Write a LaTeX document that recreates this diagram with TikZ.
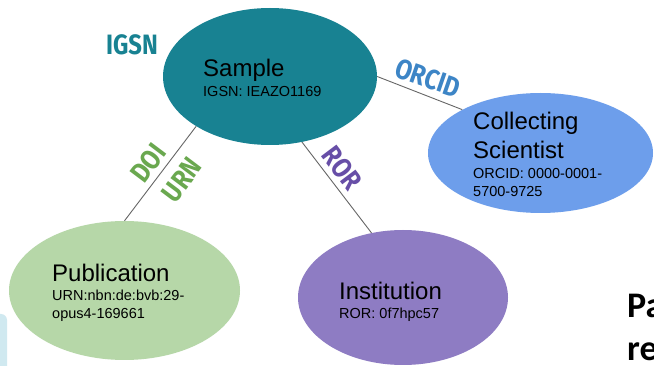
\documentclass[tikz,border=0pt]{standalone}
\usepackage{fontspec}
\setmainfont{Liberation Sans}
\newfontfamily\lblfont[FakeStretch=0.85]{Fira Sans}
\newfontfamily\calfont{Carlito}
\usetikzlibrary{shapes.geometric}
\definecolor{tealfill}{RGB}{24,130,146}
\definecolor{scifill}{RGB}{109,158,235}
\definecolor{pubfill}{RGB}{182,215,168}
\definecolor{instfill}{RGB}{142,124,195}
\definecolor{orcidc}{RGB}{61,133,198}
\definecolor{doic}{RGB}{106,168,79}
\definecolor{rorc}{RGB}{103,78,167}
\definecolor{sidefill}{RGB}{208,233,240}
\begin{document}
\begin{tikzpicture}[x=1pt,y=1pt,
  ent/.style={ellipse, draw=none, inner sep=0pt},
  conn/.style={draw=black!60, line width=0.9pt},
  lbl/.style={font=\lblfont\bfseries\fontsize{28}{28}\selectfont, inner sep=0pt},
  ttl/.style={anchor=base west, inner sep=0pt, font=\fontsize{24}{29}\selectfont},
  sub/.style={anchor=base west, inner sep=0pt, font=\fontsize{14.5}{18}\selectfont},
  big/.style={anchor=base west, inner sep=0pt, font=\calfont\bfseries\fontsize{36}{42}\selectfont}]
\useasboundingbox (0,0) rectangle (654,-366);
\fill[white] (0,0) rectangle (654,-366);
% side shape
\fill[sidefill, rounded corners=6pt] (-20,-314) rectangle (7,-380);
% connectors (drawn first)
\node[ent, minimum width=214, minimum height=137] (sample) at (270,-76.5) {};
\node[ent, minimum width=225, minimum height=120] (sci) at (540.5,-153) {};
\node[ent, minimum width=231, minimum height=139] (pub) at (124.5,-290.5) {};
\node[ent, minimum width=210, minimum height=135] (inst) at (403,-297.5) {};
\draw[conn] (sample.0) -- (sci.151);
\draw[conn] (sample.214) -- (pub.90);
\draw[conn] (sample.296) -- (inst.116);
% ellipses
\fill[tealfill] (sample.center) ellipse [x radius=107, y radius=68.5];
\fill[scifill] (sci.center) ellipse [x radius=112.5, y radius=60];
\fill[pubfill] (pub.center) ellipse [x radius=115.5, y radius=69.5];
\fill[instfill] (inst.center) ellipse [x radius=105, y radius=67.5];
% texts
\node[ttl] (t1) at (203,-77) {Sample};
\node[sub] (t2) at (203,-97) {IGSN: IEAZO1169};
\node[ttl] (t3) at (473,-130) {Collecting};
\node[ttl] (t4) at (473,-159) {Scientist};
\node[sub] (t5) at (473,-179) {ORCID: 0000-0001-};
\node[sub] (t6) at (473,-197) {5700-9725};
\node[ttl] (t7) at (52,-282) {Publication};
\node[sub] (t8) at (52,-301) {URN:nbn:de:bvb:29-};
\node[sub] (t9) at (52,-319) {opus4-169661};
\node[ttl] (t10) at (339,-300) {Institution};
\node[sub] (t11) at (339,-319) {ROR: 0f7hpc57};
% labels
\node[lbl, text=tealfill] (l1) at (132,-45) {IGSN};
\node[lbl, text=orcidc, rotate=-19] (l2) at (428,-78) {ORCID};
\node[lbl, text=doic, rotate=53] (l3) at (148,-163) {DOI};
\node[lbl, text=doic, rotate=53] (l4) at (182,-180) {URN};
\node[lbl, text=rorc, rotate=-53] (l5) at (342,-168) {ROR};
% cut-off text
\node[big] (p1) at (627,-318) {Pa};
\node[big] (p2) at (627,-360) {re};
\end{tikzpicture}
\end{document}
